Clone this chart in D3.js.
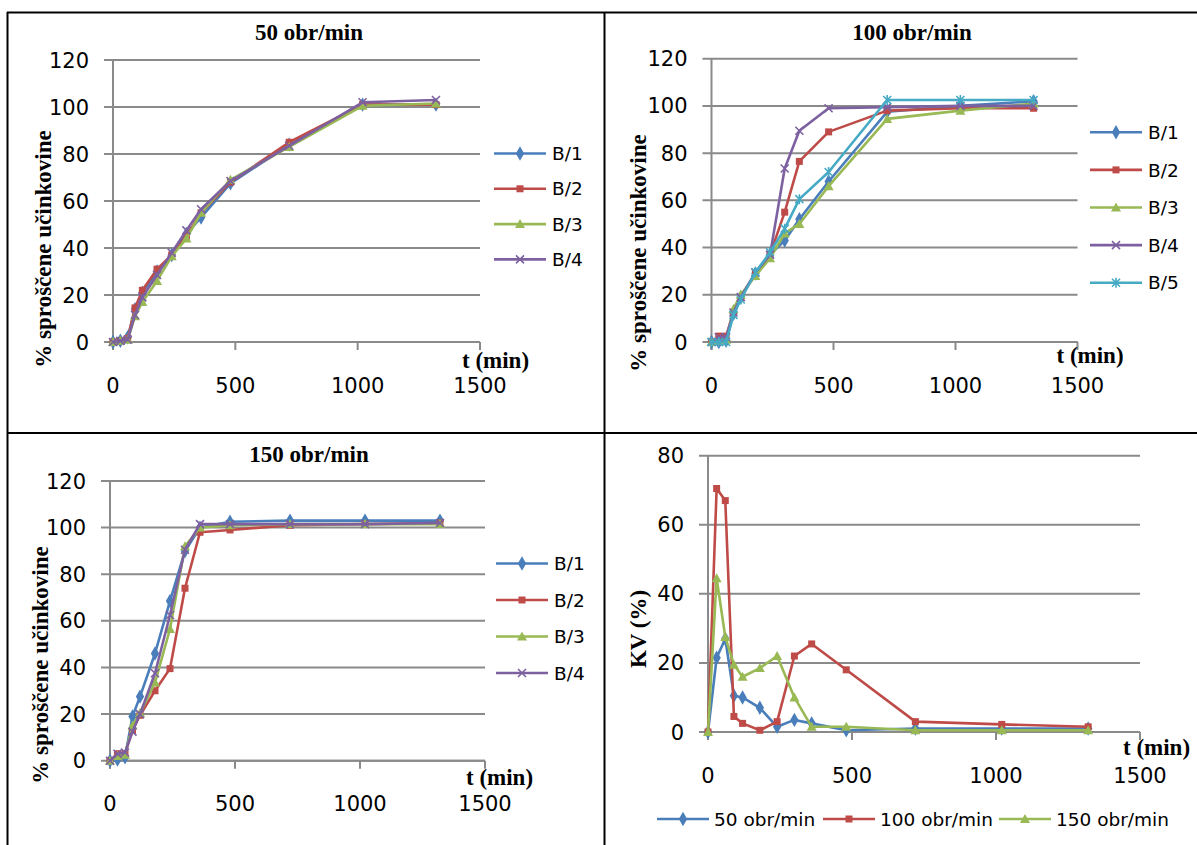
<!DOCTYPE html>
<html>
<head>
<meta charset="utf-8">
<script src="https://cdn.jsdelivr.net/npm/d3@7"></script>
<style>
  body { margin: 0; background: #fff; }
  .tick-label { font-family: "DejaVu Sans", sans-serif; font-size: 21px; fill: #000; }
  .legend-label { font-family: "DejaVu Sans", sans-serif; font-size: 18.5px; fill: #000; }
  .serif-bold { font-family: "Liberation Serif", "Times New Roman", serif; font-weight: bold; fill: #000; }
</style>
</head>
<body>
<svg id="fig" width="1197" height="845"></svg>
<script>
// sampling times (min) and axis ticks
var times = [0, 30, 60, 90, 120, 180, 240, 300, 360, 480, 720, 1020, 1320];
var xTicks = [0, 500, 1000, 1500];
var pctTicks = [0, 20, 40, 60, 80, 100, 120];
var kvTicks = [0, 20, 40, 60, 80];

// 50 obr/min
var r50_b1 = [0, 0.5, 2, 14, 21, 30, 37, 46, 53, 67.5, 84, 101, 101];
var r50_b2 = [0, 0.5, 1.5, 14.5, 22, 31, 37, 45, 55, 68, 85, 101, 101];
var r50_b3 = [0, 0.5, 1, 11, 17, 26, 36.5, 44, 55, 69, 83, 100.5, 101.5];
var r50_b4 = [0, 0.5, 1, 11.5, 19, 28.5, 38, 47.5, 56.5, 68.5, 83.5, 102, 103];

// 100 obr/min
var r100_b1 = [0, 0, 0.5, 12, 19, 29, 37, 43, 52, 68, 97.5, 100, 102];
var r100_b2 = [0, 2.5, 2.5, 12.5, 19, 29, 37, 55, 76.5, 89, 98, 99, 99];
var r100_b3 = [0, 0.5, 1, 14, 20, 28, 35.5, 46, 50, 66, 94.5, 98, 101];
var r100_b4 = [0, 2, 2, 12.5, 19, 29.5, 37, 73.5, 89.5, 99, 99.5, 100, 100];
var r100_b5 = [0, 0, 0, 11.5, 18, 29.5, 38, 48, 60.5, 72, 102.5, 102.5, 102.5];

// 150 obr/min
var r150_b1 = [0, 0.5, 1.5, 19, 27.5, 46, 68.5, 90, 100, 102.5, 103, 103, 103];
var r150_b2 = [0, 3, 3, 13, 19.5, 30, 39.5, 74, 98, 99, 101, 101.5, 102];
var r150_b3 = [0, 2, 2.5, 15, 20.5, 33.5, 56.5, 92, 100, 101, 101.5, 101.5, 101.5];
var r150_b4 = [0, 3, 3.5, 12.5, 20, 37.5, 62.5, 90.5, 101.5, 101.5, 101.5, 101.5, 102];

// KV (%)
var kv50 = [0, 21.5, 27, 10.5, 10, 7, 1.5, 3.5, 2.5, 0.5, 1, 1, 1];
var kv100 = [0, 70.5, 67, 4.5, 2.5, 0.5, 3, 22, 25.5, 18, 3, 2.2, 1.5];
var kv150 = [0, 44.5, 27.5, 19.5, 16, 18.5, 22, 10, 1.5, 1.5, 0.5, 0.5, 0.5];

var colors = ["#4A7EBB", "#BE4B48", "#98B954", "#7D60A0", "#46AAC5"];
var shapes = ["diamond", "square", "triangle", "x", "star"];

var svg = d3.select("#fig");

// table frame
var frame = svg.append("g").attr("stroke", "#000").attr("stroke-width", 2);
frame.append("line").attr("x1", 7).attr("x2", 1197).attr("y1", 12.5).attr("y2", 12.5);
frame.append("line").attr("x1", 7.5).attr("x2", 7.5).attr("y1", 12).attr("y2", 845);
frame.append("line").attr("x1", 604.5).attr("x2", 604.5).attr("y1", 12).attr("y2", 845);
frame.append("line").attr("x1", 7).attr("x2", 1197).attr("y1", 433).attr("y2", 433);

function marker(g, shape, color) {
  if (shape == "diamond") {
    g.append("path").attr("d", d3.symbol(d3.symbolDiamond, 60)()).attr("fill", color);
  } else if (shape == "square") {
    g.append("rect").attr("x", -3.5).attr("y", -3.5).attr("width", 7).attr("height", 7).attr("fill", color);
  } else if (shape == "triangle") {
    g.append("path").attr("d", "M0,-5L5,4L-5,4Z").attr("fill", color);
  } else if (shape == "x") {
    g.append("path").attr("d", "M-4,-4L4,4M4,-4L-4,4").attr("stroke", color).attr("stroke-width", 1.6).attr("fill", "none");
  } else {
    g.append("path").attr("d", "M-4,-4L4,4M4,-4L-4,4M0,-5L0,5").attr("stroke", color).attr("stroke-width", 1.6).attr("fill", "none");
  }
}

function drawChart(c) {
  var x = d3.scaleLinear().domain([0, 1500]).range([c.left, c.right]);
  var y = d3.scaleLinear().domain([0, c.ymax]).range([c.bottom, c.top]);
  var g = svg.append("g");

  // gridlines (extend left as y ticks)
  g.selectAll(".grid").data(c.yTicks).enter().append("line")
      .attr("x1", c.left - 9).attr("x2", c.right)
      .attr("y1", function(d) { return y(d); }).attr("y2", function(d) { return y(d); })
      .attr("stroke", "#8a8a8a").attr("stroke-width", 2);

  // axes
  g.append("line").attr("x1", c.left).attr("x2", c.left).attr("y1", c.top).attr("y2", c.bottom + 8)
      .attr("stroke", "#8a8a8a").attr("stroke-width", 2);
  g.append("line").attr("x1", c.left).attr("x2", c.right).attr("y1", c.bottom).attr("y2", c.bottom)
      .attr("stroke", "#8a8a8a").attr("stroke-width", 2);
  g.selectAll(".xt").data(xTicks).enter().append("line")
      .attr("x1", function(d) { return x(d); }).attr("x2", function(d) { return x(d); })
      .attr("y1", c.bottom).attr("y2", c.bottom + 8)
      .attr("stroke", "#8a8a8a").attr("stroke-width", 2);

  g.selectAll(".yl").data(c.yTicks).enter().append("text")
      .attr("class", "tick-label")
      .attr("x", c.left - 24).attr("y", function(d) { return y(d); })
      .attr("dy", "0.36em").attr("text-anchor", "end")
      .text(function(d) { return d; });
  g.selectAll(".xl").data(xTicks).enter().append("text")
      .attr("class", "tick-label")
      .attr("x", function(d) { return x(d); }).attr("y", c.bottom + 43)
      .attr("dy", "0.36em").attr("text-anchor", "middle")
      .text(function(d) { return d; });

  // titles
  if (c.title) {
    g.append("text").attr("class", "serif-bold").attr("font-size", 23)
        .attr("x", c.titleX).attr("y", c.titleY).attr("dy", "0.35em")
        .attr("text-anchor", "middle").text(c.title);
  }
  g.append("text").attr("class", "serif-bold").attr("font-size", 23)
      .attr("transform", "translate(" + c.yLabX + "," + c.yLabY + ") rotate(-90)")
      .attr("dy", "0.35em").attr("text-anchor", "middle").text(c.yLabel);
  g.append("text").attr("class", "serif-bold").attr("font-size", 23)
      .attr("x", c.right + c.tdx).attr("y", c.bottom + c.tdy).attr("dy", "0.35em")
      .text("t (min)");

  var line = d3.line()
      .x(function(d, i) { return x(times[i]); })
      .y(function(d) { return y(d); });

  c.series.forEach(function(s, k) {
    g.append("path").attr("d", line(s.values))
        .attr("fill", "none").attr("stroke", colors[k]).attr("stroke-width", 2.6)
        .attr("stroke-linejoin", "round");
    s.values.forEach(function(v, i) {
      var m = g.append("g").attr("transform", "translate(" + x(times[i]) + "," + y(v) + ")");
      marker(m, shapes[k], colors[k]);
    });
  });

  // legend
  c.series.forEach(function(s, k) {
    var lx, ly, tx;
    if (c.legendRow) {
      lx = c.legendRow[k]; ly = c.legendY; tx = lx + 57;
    } else {
      lx = c.legendX; ly = c.legendY + k * c.legendStep; tx = lx + 58;
    }
    g.append("line").attr("x1", lx).attr("x2", lx + 52).attr("y1", ly).attr("y2", ly)
        .attr("stroke", colors[k]).attr("stroke-width", 2.6);
    var m = g.append("g").attr("transform", "translate(" + (lx + 26) + "," + ly + ")");
    marker(m, shapes[k], colors[k]);
    g.append("text").attr("class", "legend-label").attr("x", tx).attr("y", ly)
        .attr("dy", "0.36em").text(s.name);
  });
}

var yLab = "% sproščene učinkovine";

drawChart({
  left: 113, right: 480, top: 60, bottom: 342, ymax: 120, yTicks: pctTicks,
  title: "50 obr/min", titleX: 309, titleY: 32,
  yLabel: yLab, yLabX: 43, yLabY: 249, tdx: -18, tdy: 18,
  legendX: 494, legendY: 153.5, legendStep: 35.3,
  series: [
    {name: "B/1", values: r50_b1}, {name: "B/2", values: r50_b2},
    {name: "B/3", values: r50_b3}, {name: "B/4", values: r50_b4}
  ]
});

drawChart({
  left: 711.5, right: 1077.5, top: 58.7, bottom: 342, ymax: 120, yTicks: pctTicks,
  title: "100 obr/min", titleX: 912, titleY: 32,
  yLabel: yLab, yLabX: 638, yLabY: 253, tdx: -21, tdy: 13,
  legendX: 1090, legendY: 132.3, legendStep: 37.6,
  series: [
    {name: "B/1", values: r100_b1}, {name: "B/2", values: r100_b2},
    {name: "B/3", values: r100_b3}, {name: "B/4", values: r100_b4},
    {name: "B/5", values: r100_b5}
  ]
});

drawChart({
  left: 110, right: 485, top: 481, bottom: 760.7, ymax: 120, yTicks: pctTicks,
  title: "150 obr/min", titleX: 309, titleY: 453.5,
  yLabel: yLab, yLabX: 40, yLabY: 665, tdx: -19, tdy: 16,
  legendX: 496, legendY: 563.5, legendStep: 36.5,
  series: [
    {name: "B/1", values: r150_b1}, {name: "B/2", values: r150_b2},
    {name: "B/3", values: r150_b3}, {name: "B/4", values: r150_b4}
  ]
});

drawChart({
  left: 708, right: 1140, top: 455.7, bottom: 732, ymax: 80, yTicks: kvTicks,
  title: null,
  yLabel: "KV (%)", yLabX: 638, yLabY: 629, tdx: -17, tdy: 15,
  legendRow: [657, 823, 999], legendY: 819,
  series: [
    {name: "50 obr/min", values: kv50}, {name: "100 obr/min", values: kv100},
    {name: "150 obr/min", values: kv150}
  ]
});
</script>
</body>
</html>
